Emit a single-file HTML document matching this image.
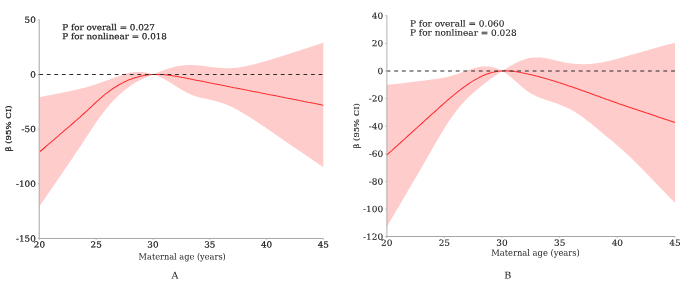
<!DOCTYPE html>
<html><head><meta charset="utf-8"><title>Figure</title>
<style>
html,body{margin:0;padding:0;background:#fff;}
svg{display:block;}
.t{font-family:"DejaVu Serif","Liberation Serif",serif;fill:#161616;}
.c{font-family:"DejaVu Serif Condensed","DejaVu Serif","Liberation Serif",serif;fill:#222;}
.t2{font-family:"DejaVu Serif","Liberation Serif",serif;fill:#222;}
</style></head><body>
<svg width="685" height="282" viewBox="0 0 685 282">
<rect width="685" height="282" fill="#fff"/>
<defs><filter id="idf" x="0" y="0" width="685" height="282" filterUnits="userSpaceOnUse" color-interpolation-filters="sRGB"><feColorMatrix type="matrix" values="1 0 0 0 0 0 1 0 0 0 0 0 1 0 0 0 0 0 1 0"/></filter></defs>
<g filter="url(#idf)">
<path d="M39.4 97.1L40.6 96.9L41.8 96.7L43.0 96.5L44.2 96.3L45.3 96.0L46.5 95.8L47.7 95.6L48.9 95.4L50.1 95.1L51.3 94.9L52.5 94.6L53.7 94.4L54.8 94.2L56.0 93.9L57.2 93.7L58.4 93.4L59.6 93.2L60.8 92.9L62.0 92.7L63.2 92.5L64.3 92.2L65.5 92.0L66.7 91.7L67.9 91.5L69.1 91.2L70.3 91.0L71.5 90.7L72.7 90.5L73.8 90.2L75.0 90.0L76.2 89.7L77.4 89.4L78.6 89.2L79.8 88.9L81.0 88.6L82.2 88.3L83.4 88.0L84.5 87.7L85.7 87.4L86.9 87.0L88.1 86.7L89.3 86.4L90.5 86.0L91.7 85.6L92.9 85.3L94.0 84.9L95.2 84.5L96.4 84.1L97.6 83.7L98.8 83.3L100.0 82.9L101.2 82.5L102.4 82.1L103.5 81.6L104.7 81.2L105.9 80.8L107.1 80.3L108.3 79.9L109.5 79.5L110.7 79.0L111.9 78.6L113.0 78.1L114.2 77.7L115.4 77.2L116.6 76.8L117.8 76.4L119.0 75.9L120.2 75.5L121.4 75.1L122.6 74.7L123.7 74.3L124.9 74.0L126.1 73.6L127.3 73.3L128.5 73.0L129.7 72.8L130.9 72.6L132.1 72.4L133.2 72.2L134.4 72.1L135.6 72.0L136.8 71.9L138.0 71.9L139.2 71.9L140.4 71.9L141.6 72.0L142.7 72.1L143.9 72.2L145.1 72.4L146.3 72.6L147.5 72.9L148.7 73.1L149.9 73.5L151.1 73.8L152.2 74.2L153.1 74.5L153.4 74.3L154.6 73.8L155.8 73.3L157.0 72.8L158.2 72.3L159.4 71.8L160.6 71.3L161.8 70.9L162.9 70.4L164.1 70.0L165.3 69.6L166.5 69.2L167.7 68.8L168.9 68.4L170.1 68.1L171.3 67.7L172.4 67.4L173.6 67.1L174.8 66.8L176.0 66.6L177.2 66.3L178.4 66.1L179.6 65.9L180.8 65.7L181.9 65.5L183.1 65.4L184.3 65.3L185.5 65.2L186.7 65.1L187.9 65.1L189.1 65.0L190.3 65.0L191.4 65.0L192.6 65.1L193.8 65.1L195.0 65.2L196.2 65.2L197.4 65.3L198.6 65.4L199.8 65.5L200.9 65.7L202.1 65.8L203.3 65.9L204.5 66.1L205.7 66.2L206.9 66.4L208.1 66.6L209.3 66.7L210.5 66.9L211.6 67.0L212.8 67.2L214.0 67.3L215.2 67.5L216.4 67.6L217.6 67.7L218.8 67.8L220.0 67.9L221.1 68.0L222.3 68.1L223.5 68.1L224.7 68.2L225.9 68.2L227.1 68.2L228.3 68.2L229.5 68.2L230.6 68.1L231.8 68.1L233.0 68.0L234.2 67.9L235.4 67.8L236.6 67.7L237.8 67.5L239.0 67.4L240.1 67.2L241.3 67.0L242.5 66.8L243.7 66.6L244.9 66.4L246.1 66.1L247.3 65.9L248.5 65.6L249.7 65.4L250.8 65.1L252.0 64.8L253.2 64.5L254.4 64.2L255.6 63.9L256.8 63.6L258.0 63.3L259.2 63.0L260.3 62.6L261.5 62.3L262.7 62.0L263.9 61.6L265.1 61.3L266.3 60.9L267.5 60.6L268.7 60.2L269.8 59.9L271.0 59.5L272.2 59.2L273.4 58.8L274.6 58.4L275.8 58.1L277.0 57.7L278.2 57.3L279.3 57.0L280.5 56.6L281.7 56.2L282.9 55.8L284.1 55.5L285.3 55.1L286.5 54.7L287.7 54.3L288.9 53.9L290.0 53.6L291.2 53.2L292.4 52.8L293.6 52.4L294.8 52.0L296.0 51.6L297.2 51.3L298.4 50.9L299.5 50.5L300.7 50.1L301.9 49.7L303.1 49.3L304.3 48.9L305.5 48.6L306.7 48.2L307.9 47.8L309.0 47.4L310.2 47.0L311.4 46.6L312.6 46.2L313.8 45.8L315.0 45.5L316.2 45.1L317.4 44.7L318.5 44.3L319.7 43.9L320.9 43.5L322.1 43.1L323.3 42.7L323.3 167.2L322.1 166.4L320.9 165.6L319.7 164.8L318.5 164.0L317.4 163.2L316.2 162.3L315.0 161.5L313.8 160.7L312.6 159.9L311.4 159.1L310.2 158.3L309.0 157.5L307.9 156.7L306.7 155.9L305.5 155.1L304.3 154.3L303.1 153.5L301.9 152.6L300.7 151.8L299.5 151.0L298.4 150.2L297.2 149.4L296.0 148.6L294.8 147.8L293.6 147.0L292.4 146.2L291.2 145.4L290.0 144.5L288.9 143.7L287.7 142.9L286.5 142.1L285.3 141.3L284.1 140.5L282.9 139.6L281.7 138.8L280.5 138.0L279.3 137.2L278.2 136.3L277.0 135.5L275.8 134.7L274.6 133.9L273.4 133.0L272.2 132.2L271.0 131.4L269.8 130.6L268.7 129.7L267.5 128.9L266.3 128.1L265.1 127.3L263.9 126.5L262.7 125.7L261.5 124.9L260.3 124.1L259.2 123.3L258.0 122.5L256.8 121.7L255.6 120.9L254.4 120.1L253.2 119.4L252.0 118.6L250.8 117.9L249.7 117.1L248.5 116.4L247.3 115.6L246.1 114.9L244.9 114.2L243.7 113.5L242.5 112.8L241.3 112.1L240.1 111.4L239.0 110.8L237.8 110.1L236.6 109.5L235.4 108.8L234.2 108.2L233.0 107.6L231.8 107.1L230.6 106.5L229.5 106.0L228.3 105.5L227.1 105.0L225.9 104.5L224.7 104.0L223.5 103.6L222.3 103.2L221.1 102.8L220.0 102.4L218.8 102.0L217.6 101.7L216.4 101.3L215.2 101.0L214.0 100.7L212.8 100.4L211.6 100.1L210.5 99.9L209.3 99.6L208.1 99.3L206.9 99.1L205.7 98.8L204.5 98.6L203.3 98.3L202.1 98.0L200.9 97.7L199.8 97.4L198.6 97.1L197.4 96.8L196.2 96.4L195.0 96.0L193.8 95.6L192.6 95.2L191.4 94.7L190.3 94.2L189.1 93.7L187.9 93.1L186.7 92.5L185.5 91.9L184.3 91.3L183.1 90.6L181.9 89.9L180.8 89.2L179.6 88.5L178.4 87.8L177.2 87.0L176.0 86.3L174.8 85.5L173.6 84.8L172.4 84.0L171.3 83.3L170.1 82.5L168.9 81.8L167.7 81.1L166.5 80.4L165.3 79.7L164.1 79.1L162.9 78.5L161.8 77.9L160.6 77.3L159.4 76.8L158.2 76.3L157.0 75.8L155.8 75.3L154.6 74.9L153.4 74.6L153.1 74.5L152.2 74.8L151.1 75.3L149.9 75.8L148.7 76.3L147.5 76.8L146.3 77.3L145.1 77.8L143.9 78.3L142.7 78.9L141.6 79.5L140.4 80.1L139.2 80.7L138.0 81.3L136.8 82.0L135.6 82.6L134.4 83.3L133.2 84.1L132.1 84.8L130.9 85.6L129.7 86.4L128.5 87.3L127.3 88.2L126.1 89.1L124.9 90.0L123.7 91.0L122.6 92.0L121.4 93.0L120.2 94.0L119.0 95.1L117.8 96.3L116.6 97.4L115.4 98.6L114.2 99.8L113.0 101.1L111.9 102.3L110.7 103.6L109.5 105.0L108.3 106.4L107.1 107.8L105.9 109.2L104.7 110.7L103.5 112.2L102.4 113.8L101.2 115.4L100.0 117.0L98.8 118.6L97.6 120.3L96.4 122.0L95.2 123.7L94.0 125.5L92.9 127.3L91.7 129.1L90.5 130.9L89.3 132.7L88.1 134.5L86.9 136.3L85.7 138.1L84.5 140.0L83.4 141.8L82.2 143.6L81.0 145.4L79.8 147.2L78.6 149.0L77.4 150.8L76.2 152.6L75.0 154.3L73.8 156.1L72.7 157.9L71.5 159.6L70.3 161.4L69.1 163.1L67.9 164.9L66.7 166.6L65.5 168.4L64.3 170.1L63.2 171.8L62.0 173.6L60.8 175.3L59.6 177.0L58.4 178.8L57.2 180.5L56.0 182.2L54.8 184.0L53.7 185.7L52.5 187.4L51.3 189.1L50.1 190.9L48.9 192.6L47.7 194.3L46.5 196.1L45.3 197.8L44.2 199.5L43.0 201.2L41.8 203.0L40.6 204.7L39.4 206.5Z" fill="#ffcccc"/>
<path d="M39.4 152.1L40.6 151.0L41.8 150.0L43.0 149.0L44.2 148.0L45.3 147.0L46.5 145.9L47.7 144.9L48.9 143.9L50.1 142.9L51.3 141.9L52.5 140.9L53.7 139.8L54.8 138.8L56.0 137.8L57.2 136.8L58.4 135.8L59.6 134.7L60.8 133.7L62.0 132.7L63.2 131.7L64.3 130.7L65.5 129.7L66.7 128.6L67.9 127.6L69.1 126.6L70.3 125.6L71.5 124.5L72.7 123.5L73.8 122.5L75.0 121.4L76.2 120.4L77.4 119.4L78.6 118.3L79.8 117.3L81.0 116.2L82.2 115.1L83.4 114.0L84.5 113.0L85.7 111.9L86.9 110.8L88.1 109.7L89.3 108.5L90.5 107.4L91.7 106.3L92.9 105.2L94.0 104.1L95.2 103.0L96.4 101.9L97.6 100.8L98.8 99.8L100.0 98.7L101.2 97.7L102.4 96.6L103.5 95.6L104.7 94.7L105.9 93.7L107.1 92.8L108.3 91.9L109.5 91.0L110.7 90.1L111.9 89.3L113.0 88.5L114.2 87.7L115.4 87.0L116.6 86.2L117.8 85.5L119.0 84.8L120.2 84.1L121.4 83.5L122.6 82.9L123.7 82.3L124.9 81.7L126.1 81.2L127.3 80.6L128.5 80.1L129.7 79.6L130.9 79.2L132.1 78.7L133.2 78.3L134.4 77.9L135.6 77.5L136.8 77.2L138.0 76.9L139.2 76.6L140.4 76.3L141.6 76.0L142.7 75.7L143.9 75.5L145.1 75.3L146.3 75.1L147.5 75.0L148.7 74.8L149.9 74.7L151.1 74.6L152.2 74.5L153.1 74.5L153.4 74.4L154.6 74.4L155.8 74.4L157.0 74.4L158.2 74.4L159.4 74.4L160.6 74.4L161.8 74.5L162.9 74.6L164.1 74.7L165.3 74.8L166.5 74.9L167.7 75.0L168.9 75.2L170.1 75.3L171.3 75.5L172.4 75.7L173.6 75.9L174.8 76.1L176.0 76.3L177.2 76.5L178.4 76.7L179.6 76.9L180.8 77.1L181.9 77.4L183.1 77.6L184.3 77.8L185.5 78.1L186.7 78.3L187.9 78.5L189.1 78.8L190.3 79.0L191.4 79.2L192.6 79.5L193.8 79.7L195.0 79.9L196.2 80.2L197.4 80.4L198.6 80.6L199.8 80.9L200.9 81.1L202.1 81.3L203.3 81.6L204.5 81.8L205.7 82.0L206.9 82.3L208.1 82.5L209.3 82.7L210.5 83.0L211.6 83.2L212.8 83.4L214.0 83.7L215.2 83.9L216.4 84.1L217.6 84.4L218.8 84.6L220.0 84.8L221.1 85.1L222.3 85.3L223.5 85.5L224.7 85.8L225.9 86.0L227.1 86.3L228.3 86.5L229.5 86.7L230.6 87.0L231.8 87.2L233.0 87.4L234.2 87.7L235.4 87.9L236.6 88.1L237.8 88.4L239.0 88.6L240.1 88.8L241.3 89.1L242.5 89.3L243.7 89.5L244.9 89.8L246.1 90.0L247.3 90.2L248.5 90.5L249.7 90.7L250.8 90.9L252.0 91.2L253.2 91.4L254.4 91.6L255.6 91.9L256.8 92.1L258.0 92.3L259.2 92.6L260.3 92.8L261.5 93.0L262.7 93.3L263.9 93.5L265.1 93.7L266.3 94.0L267.5 94.2L268.7 94.4L269.8 94.7L271.0 94.9L272.2 95.1L273.4 95.4L274.6 95.6L275.8 95.8L277.0 96.1L278.2 96.3L279.3 96.5L280.5 96.8L281.7 97.0L282.9 97.2L284.1 97.5L285.3 97.7L286.5 97.9L287.7 98.2L288.9 98.4L290.0 98.6L291.2 98.9L292.4 99.1L293.6 99.4L294.8 99.6L296.0 99.8L297.2 100.1L298.4 100.3L299.5 100.5L300.7 100.8L301.9 101.0L303.1 101.2L304.3 101.5L305.5 101.7L306.7 101.9L307.9 102.2L309.0 102.4L310.2 102.6L311.4 102.9L312.6 103.1L313.8 103.3L315.0 103.6L316.2 103.8L317.4 104.0L318.5 104.3L319.7 104.5L320.9 104.7L322.1 105.0L323.3 105.2" stroke="#ff2b2b" stroke-width="1.05" fill="none" stroke-linejoin="round"/>
<path d="M39.199999999999996 74.5H323.3" stroke="#2b2b2b" stroke-width="1" stroke-dasharray="3.8 3.75" fill="none"/>
<path d="M39.25 19.6V238.45" stroke="#b6b6b6" stroke-width="1.25" fill="none"/>
<path d="M38.5 238.45H323.3" stroke="#a6a6a6" stroke-width="1" fill="none"/>
<path d="M38.4 74.5H39.9" stroke="#2b2b2b" stroke-width="1" fill="none"/>
<path d="M37.8 19.8H39.4" stroke="#b3b3b3" stroke-width="0.8"/>
<text transform="translate(35.80 22.78) rotate(0.03) scale(1.055 1)" text-anchor="end" class="t" font-size="8.35" stroke="#161616" stroke-width="0.2">50</text>
<path d="M37.8 74.5H39.4" stroke="#b3b3b3" stroke-width="0.8"/>
<text transform="translate(35.80 77.45) rotate(0.03) scale(1.055 1)" text-anchor="end" class="t" font-size="8.35" stroke="#161616" stroke-width="0.2">0</text>
<path d="M37.8 129.2H39.4" stroke="#b3b3b3" stroke-width="0.8"/>
<text transform="translate(35.80 132.12) rotate(0.03) scale(1.055 1)" text-anchor="end" class="t" font-size="8.35" stroke="#161616" stroke-width="0.2">-50</text>
<path d="M37.8 183.8H39.4" stroke="#b3b3b3" stroke-width="0.8"/>
<text transform="translate(35.80 186.80) rotate(0.03) scale(1.055 1)" text-anchor="end" class="t" font-size="8.35" stroke="#161616" stroke-width="0.2">-100</text>
<path d="M37.8 238.5H39.4" stroke="#b3b3b3" stroke-width="0.8"/>
<text transform="translate(35.80 241.47) rotate(0.03) scale(1.055 1)" text-anchor="end" class="t" font-size="8.35" stroke="#161616" stroke-width="0.2">-150</text>
<path d="M39.4 238.45V240.04999999999998" stroke="#b3b3b3" stroke-width="0.8"/>
<text transform="translate(39.40 247.60) rotate(0.03) scale(1.055 1)" text-anchor="middle" class="t" font-size="8.35" stroke="#161616" stroke-width="0.2">20</text>
<path d="M96.2 238.45V240.04999999999998" stroke="#b3b3b3" stroke-width="0.8"/>
<text transform="translate(96.18 247.60) rotate(0.03) scale(1.055 1)" text-anchor="middle" class="t" font-size="8.35" stroke="#161616" stroke-width="0.2">25</text>
<path d="M153.0 238.45V240.04999999999998" stroke="#b3b3b3" stroke-width="0.8"/>
<text transform="translate(152.96 247.60) rotate(0.03) scale(1.055 1)" text-anchor="middle" class="t" font-size="8.35" stroke="#161616" stroke-width="0.2">30</text>
<path d="M209.7 238.45V240.04999999999998" stroke="#b3b3b3" stroke-width="0.8"/>
<text transform="translate(209.74 247.60) rotate(0.03) scale(1.055 1)" text-anchor="middle" class="t" font-size="8.35" stroke="#161616" stroke-width="0.2">35</text>
<path d="M266.5 238.45V240.04999999999998" stroke="#b3b3b3" stroke-width="0.8"/>
<text transform="translate(266.52 247.60) rotate(0.03) scale(1.055 1)" text-anchor="middle" class="t" font-size="8.35" stroke="#161616" stroke-width="0.2">40</text>
<path d="M323.3 238.45V240.04999999999998" stroke="#b3b3b3" stroke-width="0.8"/>
<text transform="translate(323.30 247.60) rotate(0.03) scale(1.055 1)" text-anchor="middle" class="t" font-size="8.35" stroke="#161616" stroke-width="0.2">45</text>
<text transform="translate(182.20 259.40) rotate(0.03) scale(1.060 1)" text-anchor="middle" class="c" font-size="8.60">Maternal age (years)</text>
<text transform="translate(174.80 278.50) rotate(0.03) scale(1.030 1)" text-anchor="middle" class="t2" font-size="9.20">A</text>
<text transform="translate(11.10 128.40) rotate(-90) scale(1.046 1)" text-anchor="middle" class="t2" font-size="8.20" stroke="#161616" stroke-width="0.25">β (95% CI)</text>
<text transform="translate(62.30 30.20) rotate(0.03) scale(1.052 1)" text-anchor="start" class="t" font-size="8.35" stroke="#161616" stroke-width="0.2">P for overall = 0.027</text>
<text transform="translate(62.30 39.20) rotate(0.03) scale(1.052 1)" text-anchor="start" class="t" font-size="8.35" stroke="#161616" stroke-width="0.2">P for nonlinear = 0.018</text>
<path d="M386.7 84.8L387.9 84.7L389.1 84.6L390.3 84.5L391.5 84.4L392.7 84.3L393.9 84.1L395.1 84.0L396.4 83.9L397.6 83.8L398.8 83.6L400.0 83.5L401.2 83.4L402.4 83.2L403.6 83.1L404.8 82.9L406.0 82.8L407.2 82.6L408.4 82.5L409.6 82.3L410.8 82.2L412.0 82.0L413.2 81.9L414.4 81.7L415.7 81.6L416.9 81.4L418.1 81.3L419.3 81.1L420.5 81.0L421.7 80.8L422.9 80.7L424.1 80.5L425.3 80.4L426.5 80.2L427.7 80.1L428.9 79.9L430.1 79.8L431.3 79.6L432.5 79.5L433.7 79.3L435.0 79.1L436.2 79.0L437.4 78.8L438.6 78.6L439.8 78.4L441.0 78.2L442.2 78.0L443.4 77.7L444.6 77.5L445.8 77.2L447.0 77.0L448.2 76.7L449.4 76.4L450.6 76.0L451.8 75.7L453.0 75.3L454.3 75.0L455.5 74.6L456.7 74.2L457.9 73.8L459.1 73.3L460.3 72.9L461.5 72.5L462.7 72.0L463.9 71.6L465.1 71.1L466.3 70.7L467.5 70.3L468.7 69.8L469.9 69.4L471.1 69.0L472.3 68.7L473.6 68.3L474.8 68.0L476.0 67.7L477.2 67.4L478.4 67.1L479.6 66.9L480.8 66.7L482.0 66.6L483.2 66.5L484.4 66.4L485.6 66.4L486.8 66.4L488.0 66.5L489.2 66.6L490.4 66.7L491.6 66.9L492.9 67.2L494.1 67.5L495.3 67.8L496.5 68.2L497.7 68.7L498.9 69.2L500.1 69.8L501.3 70.4L502.3 70.9L502.5 70.8L503.7 70.0L504.9 69.2L506.1 68.5L507.3 67.8L508.5 67.0L509.7 66.3L510.9 65.6L512.2 64.9L513.4 64.3L514.6 63.6L515.8 63.0L517.0 62.4L518.2 61.9L519.4 61.3L520.6 60.8L521.8 60.3L523.0 59.9L524.2 59.4L525.4 59.1L526.6 58.7L527.8 58.4L529.0 58.1L530.2 57.9L531.5 57.7L532.7 57.6L533.9 57.5L535.1 57.4L536.3 57.4L537.5 57.4L538.7 57.4L539.9 57.5L541.1 57.6L542.3 57.7L543.5 57.9L544.7 58.1L545.9 58.3L547.1 58.5L548.3 58.8L549.5 59.0L550.8 59.3L552.0 59.6L553.2 59.8L554.4 60.1L555.6 60.4L556.8 60.7L558.0 61.0L559.2 61.2L560.4 61.5L561.6 61.7L562.8 62.0L564.0 62.2L565.2 62.5L566.4 62.7L567.6 62.9L568.8 63.0L570.1 63.2L571.3 63.4L572.5 63.5L573.7 63.7L574.9 63.8L576.1 63.9L577.3 64.0L578.5 64.0L579.7 64.1L580.9 64.1L582.1 64.2L583.3 64.2L584.5 64.2L585.7 64.2L586.9 64.1L588.1 64.1L589.4 64.0L590.6 63.9L591.8 63.8L593.0 63.7L594.2 63.6L595.4 63.5L596.6 63.3L597.8 63.1L599.0 62.9L600.2 62.7L601.4 62.5L602.6 62.3L603.8 62.1L605.0 61.8L606.2 61.6L607.4 61.3L608.7 61.0L609.9 60.7L611.1 60.4L612.3 60.1L613.5 59.8L614.7 59.5L615.9 59.2L617.1 58.9L618.3 58.5L619.5 58.2L620.7 57.9L621.9 57.5L623.1 57.2L624.3 56.8L625.5 56.5L626.7 56.2L628.0 55.8L629.2 55.5L630.4 55.1L631.6 54.8L632.8 54.4L634.0 54.1L635.2 53.7L636.4 53.4L637.6 53.1L638.8 52.7L640.0 52.4L641.2 52.0L642.4 51.7L643.6 51.3L644.8 51.0L646.0 50.7L647.3 50.3L648.5 50.0L649.7 49.6L650.9 49.3L652.1 49.0L653.3 48.6L654.5 48.3L655.7 47.9L656.9 47.6L658.1 47.3L659.3 46.9L660.5 46.6L661.7 46.3L662.9 46.0L664.1 45.6L665.3 45.3L666.6 45.0L667.8 44.6L669.0 44.3L670.2 44.0L671.4 43.7L672.6 43.3L673.8 43.0L675.0 42.7L675.0 203.0L673.8 201.7L672.6 200.5L671.4 199.2L670.2 198.0L669.0 196.8L667.8 195.5L666.6 194.3L665.3 193.0L664.1 191.8L662.9 190.5L661.7 189.3L660.5 188.0L659.3 186.8L658.1 185.5L656.9 184.3L655.7 183.0L654.5 181.8L653.3 180.5L652.1 179.3L650.9 178.0L649.7 176.7L648.5 175.5L647.3 174.2L646.0 173.0L644.8 171.7L643.6 170.5L642.4 169.3L641.2 168.0L640.0 166.8L638.8 165.6L637.6 164.4L636.4 163.2L635.2 162.0L634.0 160.8L632.8 159.6L631.6 158.5L630.4 157.3L629.2 156.2L628.0 155.0L626.7 153.9L625.5 152.8L624.3 151.7L623.1 150.6L621.9 149.5L620.7 148.5L619.5 147.4L618.3 146.4L617.1 145.3L615.9 144.3L614.7 143.3L613.5 142.3L612.3 141.3L611.1 140.3L609.9 139.2L608.7 138.2L607.4 137.2L606.2 136.2L605.0 135.2L603.8 134.2L602.6 133.2L601.4 132.2L600.2 131.2L599.0 130.2L597.8 129.2L596.6 128.2L595.4 127.2L594.2 126.2L593.0 125.2L591.8 124.2L590.6 123.3L589.4 122.3L588.1 121.3L586.9 120.4L585.7 119.4L584.5 118.5L583.3 117.6L582.1 116.7L580.9 115.9L579.7 115.0L578.5 114.2L577.3 113.4L576.1 112.7L574.9 111.9L573.7 111.2L572.5 110.5L571.3 109.9L570.1 109.2L568.8 108.6L567.6 108.0L566.4 107.5L565.2 106.9L564.0 106.4L562.8 105.9L561.6 105.4L560.4 104.9L559.2 104.4L558.0 104.0L556.8 103.5L555.6 103.1L554.4 102.7L553.2 102.3L552.0 101.9L550.8 101.5L549.5 101.1L548.3 100.7L547.1 100.3L545.9 99.9L544.7 99.4L543.5 99.0L542.3 98.6L541.1 98.2L539.9 97.7L538.7 97.2L537.5 96.7L536.3 96.2L535.1 95.6L533.9 95.0L532.7 94.4L531.5 93.7L530.2 93.0L529.0 92.2L527.8 91.4L526.6 90.5L525.4 89.7L524.2 88.7L523.0 87.8L521.8 86.8L520.6 85.7L519.4 84.7L518.2 83.6L517.0 82.5L515.8 81.5L514.6 80.4L513.4 79.3L512.2 78.3L510.9 77.2L509.7 76.2L508.5 75.3L507.3 74.3L506.1 73.4L504.9 72.6L503.7 71.8L502.5 71.0L502.3 70.9L501.3 71.6L500.1 72.4L498.9 73.2L497.7 74.1L496.5 74.9L495.3 75.7L494.1 76.6L492.9 77.4L491.6 78.3L490.4 79.1L489.2 80.0L488.0 80.9L486.8 81.8L485.6 82.7L484.4 83.6L483.2 84.6L482.0 85.5L480.8 86.5L479.6 87.5L478.4 88.5L477.2 89.5L476.0 90.5L474.8 91.5L473.6 92.6L472.3 93.7L471.1 94.8L469.9 95.9L468.7 97.1L467.5 98.3L466.3 99.5L465.1 100.7L463.9 102.0L462.7 103.3L461.5 104.7L460.3 106.1L459.1 107.5L457.9 109.0L456.7 110.5L455.5 112.1L454.3 113.7L453.0 115.3L451.8 117.0L450.6 118.7L449.4 120.5L448.2 122.3L447.0 124.2L445.8 126.1L444.6 128.0L443.4 129.9L442.2 131.9L441.0 133.9L439.8 135.9L438.6 137.9L437.4 140.0L436.2 142.0L435.0 144.1L433.7 146.2L432.5 148.3L431.3 150.4L430.1 152.6L428.9 154.7L427.7 156.8L426.5 158.9L425.3 161.0L424.1 163.1L422.9 165.2L421.7 167.3L420.5 169.4L419.3 171.5L418.1 173.6L416.9 175.7L415.7 177.8L414.4 179.8L413.2 181.9L412.0 183.9L410.8 186.0L409.6 188.1L408.4 190.1L407.2 192.1L406.0 194.2L404.8 196.2L403.6 198.3L402.4 200.3L401.2 202.4L400.0 204.4L398.8 206.4L397.6 208.5L396.4 210.5L395.1 212.6L393.9 214.6L392.7 216.7L391.5 218.7L390.3 220.8L389.1 222.8L387.9 224.9L386.7 226.9Z" fill="#ffcccc"/>
<path d="M386.7 155.1L387.9 154.0L389.1 152.9L390.3 151.8L391.5 150.8L392.7 149.7L393.9 148.6L395.1 147.5L396.4 146.4L397.6 145.3L398.8 144.2L400.0 143.1L401.2 142.0L402.4 140.9L403.6 139.8L404.8 138.8L406.0 137.7L407.2 136.6L408.4 135.5L409.6 134.4L410.8 133.3L412.0 132.2L413.2 131.1L414.4 130.0L415.7 128.9L416.9 127.8L418.1 126.7L419.3 125.7L420.5 124.6L421.7 123.5L422.9 122.4L424.1 121.3L425.3 120.2L426.5 119.1L427.7 118.0L428.9 116.9L430.1 115.8L431.3 114.7L432.5 113.7L433.7 112.6L435.0 111.5L436.2 110.4L437.4 109.3L438.6 108.2L439.8 107.1L441.0 106.0L442.2 105.0L443.4 103.9L444.6 102.8L445.8 101.8L447.0 100.7L448.2 99.7L449.4 98.6L450.6 97.6L451.8 96.6L453.0 95.6L454.3 94.6L455.5 93.6L456.7 92.6L457.9 91.7L459.1 90.7L460.3 89.8L461.5 88.9L462.7 88.0L463.9 87.1L465.1 86.2L466.3 85.4L467.5 84.5L468.7 83.7L469.9 82.9L471.1 82.1L472.3 81.4L473.6 80.6L474.8 79.9L476.0 79.2L477.2 78.6L478.4 77.9L479.6 77.3L480.8 76.7L482.0 76.1L483.2 75.6L484.4 75.1L485.6 74.6L486.8 74.1L488.0 73.7L489.2 73.3L490.4 72.9L491.6 72.6L492.9 72.2L494.1 72.0L495.3 71.7L496.5 71.5L497.7 71.3L498.9 71.2L500.1 71.0L501.3 70.9L502.3 70.9L502.5 70.9L503.7 70.8L504.9 70.8L506.1 70.8L507.3 70.9L508.5 70.9L509.7 71.0L510.9 71.1L512.2 71.2L513.4 71.3L514.6 71.5L515.8 71.7L517.0 71.8L518.2 72.0L519.4 72.2L520.6 72.5L521.8 72.7L523.0 72.9L524.2 73.2L525.4 73.4L526.6 73.7L527.8 74.0L529.0 74.2L530.2 74.5L531.5 74.8L532.7 75.1L533.9 75.4L535.1 75.7L536.3 76.0L537.5 76.3L538.7 76.6L539.9 76.9L541.1 77.3L542.3 77.6L543.5 77.9L544.7 78.3L545.9 78.6L547.1 79.0L548.3 79.3L549.5 79.7L550.8 80.0L552.0 80.4L553.2 80.8L554.4 81.1L555.6 81.5L556.8 81.9L558.0 82.3L559.2 82.7L560.4 83.0L561.6 83.4L562.8 83.8L564.0 84.2L565.2 84.6L566.4 85.0L567.6 85.4L568.8 85.9L570.1 86.3L571.3 86.7L572.5 87.1L573.7 87.5L574.9 87.9L576.1 88.3L577.3 88.8L578.5 89.2L579.7 89.6L580.9 90.1L582.1 90.5L583.3 90.9L584.5 91.3L585.7 91.8L586.9 92.2L588.1 92.6L589.4 93.1L590.6 93.5L591.8 93.9L593.0 94.4L594.2 94.8L595.4 95.3L596.6 95.7L597.8 96.1L599.0 96.6L600.2 97.0L601.4 97.4L602.6 97.9L603.8 98.3L605.0 98.7L606.2 99.2L607.4 99.6L608.7 100.0L609.9 100.5L611.1 100.9L612.3 101.3L613.5 101.8L614.7 102.2L615.9 102.6L617.1 103.0L618.3 103.4L619.5 103.9L620.7 104.3L621.9 104.7L623.1 105.1L624.3 105.5L625.5 105.9L626.7 106.3L628.0 106.8L629.2 107.2L630.4 107.6L631.6 108.0L632.8 108.4L634.0 108.8L635.2 109.2L636.4 109.6L637.6 110.0L638.8 110.4L640.0 110.8L641.2 111.2L642.4 111.6L643.6 112.0L644.8 112.4L646.0 112.8L647.3 113.2L648.5 113.6L649.7 114.0L650.9 114.4L652.1 114.8L653.3 115.2L654.5 115.6L655.7 116.0L656.9 116.4L658.1 116.9L659.3 117.3L660.5 117.7L661.7 118.1L662.9 118.5L664.1 118.9L665.3 119.3L666.6 119.7L667.8 120.1L669.0 120.5L670.2 120.9L671.4 121.3L672.6 121.7L673.8 122.1L675.0 122.5" stroke="#ff2b2b" stroke-width="1.05" fill="none" stroke-linejoin="round"/>
<path d="M386.5 71.0H675.0" stroke="#2b2b2b" stroke-width="1" stroke-dasharray="3.9 3.79" fill="none"/>
<path d="M386.9 15.2V236.5" stroke="#a8a8a8" stroke-width="0.9" fill="none"/>
<path d="M385.8 236.5H675.0" stroke="#a6a6a6" stroke-width="1" fill="none"/>
<path d="M385.09999999999997 15.8H386.7" stroke="#b3b3b3" stroke-width="0.8"/>
<text transform="translate(383.10 18.71) rotate(0.03) scale(1.055 1)" text-anchor="end" class="t" font-size="8.50" stroke="#161616" stroke-width="0.1">40</text>
<path d="M385.09999999999997 43.4H386.7" stroke="#b3b3b3" stroke-width="0.8"/>
<text transform="translate(383.10 46.33) rotate(0.03) scale(1.055 1)" text-anchor="end" class="t" font-size="8.50" stroke="#161616" stroke-width="0.1">20</text>
<path d="M385.09999999999997 71.0H386.7" stroke="#b3b3b3" stroke-width="0.8"/>
<text transform="translate(383.10 73.95) rotate(0.03) scale(1.055 1)" text-anchor="end" class="t" font-size="8.50" stroke="#161616" stroke-width="0.1">0</text>
<path d="M385.09999999999997 98.6H386.7" stroke="#b3b3b3" stroke-width="0.8"/>
<text transform="translate(383.10 101.57) rotate(0.03) scale(1.055 1)" text-anchor="end" class="t" font-size="8.50" stroke="#161616" stroke-width="0.1">-20</text>
<path d="M385.09999999999997 126.2H386.7" stroke="#b3b3b3" stroke-width="0.8"/>
<text transform="translate(383.10 129.19) rotate(0.03) scale(1.055 1)" text-anchor="end" class="t" font-size="8.50" stroke="#161616" stroke-width="0.1">-40</text>
<path d="M385.09999999999997 153.9H386.7" stroke="#b3b3b3" stroke-width="0.8"/>
<text transform="translate(383.10 156.81) rotate(0.03) scale(1.055 1)" text-anchor="end" class="t" font-size="8.50" stroke="#161616" stroke-width="0.1">-60</text>
<path d="M385.09999999999997 181.5H386.7" stroke="#b3b3b3" stroke-width="0.8"/>
<text transform="translate(383.10 184.43) rotate(0.03) scale(1.055 1)" text-anchor="end" class="t" font-size="8.50" stroke="#161616" stroke-width="0.1">-80</text>
<path d="M385.09999999999997 209.1H386.7" stroke="#b3b3b3" stroke-width="0.8"/>
<text transform="translate(383.10 212.05) rotate(0.03) scale(1.055 1)" text-anchor="end" class="t" font-size="8.50" stroke="#161616" stroke-width="0.1">-100</text>
<path d="M385.09999999999997 236.7H386.7" stroke="#b3b3b3" stroke-width="0.8"/>
<text transform="translate(383.10 239.67) rotate(0.03) scale(1.055 1)" text-anchor="end" class="t" font-size="8.50" stroke="#161616" stroke-width="0.1">-120</text>
<path d="M386.7 236.5V238.1" stroke="#b3b3b3" stroke-width="0.8"/>
<text transform="translate(386.70 245.80) rotate(0.03) scale(1.055 1)" text-anchor="middle" class="t" font-size="8.50" stroke="#161616" stroke-width="0.1">20</text>
<path d="M444.4 236.5V238.1" stroke="#b3b3b3" stroke-width="0.8"/>
<text transform="translate(444.36 245.80) rotate(0.03) scale(1.055 1)" text-anchor="middle" class="t" font-size="8.50" stroke="#161616" stroke-width="0.1">25</text>
<path d="M502.0 236.5V238.1" stroke="#b3b3b3" stroke-width="0.8"/>
<text transform="translate(502.02 245.80) rotate(0.03) scale(1.055 1)" text-anchor="middle" class="t" font-size="8.50" stroke="#161616" stroke-width="0.1">30</text>
<path d="M559.7 236.5V238.1" stroke="#b3b3b3" stroke-width="0.8"/>
<text transform="translate(559.68 245.80) rotate(0.03) scale(1.055 1)" text-anchor="middle" class="t" font-size="8.50" stroke="#161616" stroke-width="0.1">35</text>
<path d="M617.3 236.5V238.1" stroke="#b3b3b3" stroke-width="0.8"/>
<text transform="translate(617.34 245.80) rotate(0.03) scale(1.055 1)" text-anchor="middle" class="t" font-size="8.50" stroke="#161616" stroke-width="0.1">40</text>
<path d="M675.0 236.5V238.1" stroke="#b3b3b3" stroke-width="0.8"/>
<text transform="translate(675.00 245.80) rotate(0.03) scale(1.055 1)" text-anchor="middle" class="t" font-size="8.50" stroke="#161616" stroke-width="0.1">45</text>
<text transform="translate(535.50 255.80) rotate(0.03) scale(1.060 1)" text-anchor="middle" class="c" font-size="8.75">Maternal age (years)</text>
<text transform="translate(507.70 278.60) rotate(0.03) scale(1.030 1)" text-anchor="middle" class="t2" font-size="9.37">B</text>
<text transform="translate(359.10 125.80) rotate(-90) scale(1.030 1)" text-anchor="middle" class="t2" font-size="8.20" stroke="#161616" stroke-width="0.12">β (95% CI)</text>
<text transform="translate(410.00 26.50) rotate(0.03) scale(1.052 1)" text-anchor="start" class="t" font-size="8.50" stroke="#161616" stroke-width="0.1">P for overall = 0.060</text>
<text transform="translate(410.00 35.60) rotate(0.03) scale(1.052 1)" text-anchor="start" class="t" font-size="8.50" stroke="#161616" stroke-width="0.1">P for nonlinear = 0.028</text>
</g>
</svg>
</body></html>
